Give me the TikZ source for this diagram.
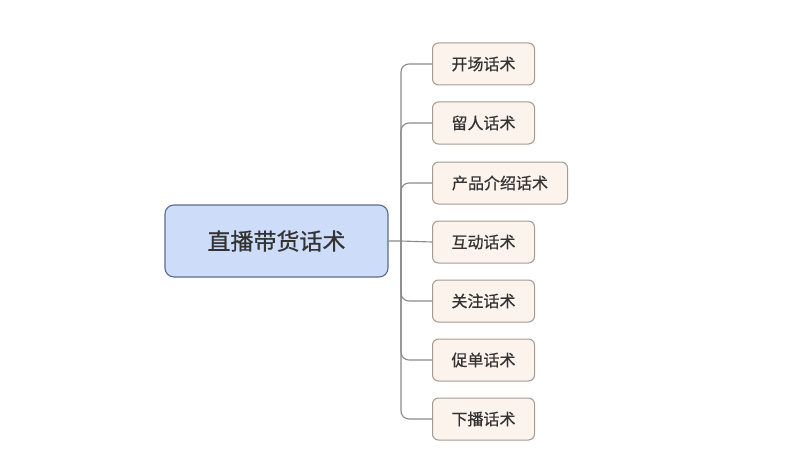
\documentclass[tikz,border=0pt]{standalone}
\usepackage{fontspec}
\setmainfont[FakeBold=0.6]{Noto Sans CJK SC}
\begin{document}
\begin{tikzpicture}[x=1pt,y=-1pt,
  rootbox/.style={draw=rootborder,fill=rootfill,line width=1.1pt,rounded corners=9pt,minimum width=223pt,minimum height=72pt,inner sep=0pt,font=\fontsize{23}{26}\selectfont,text=txt},
  kid/.style={draw=kidborder,fill=kidfill,line width=1pt,rounded corners=6pt,minimum height=42pt,inner sep=0pt,anchor=west,font=\fontsize{16}{19}\selectfont,text=txt},
  conn/.style={draw=linec,line width=1.1pt,rounded corners=8pt}]
\definecolor{rootborder}{HTML}{5A6B8C}
\definecolor{rootfill}{HTML}{CDDCF8}
\definecolor{kidborder}{HTML}{A39A93}
\definecolor{kidfill}{HTML}{FCF3EC}
\definecolor{txt}{HTML}{333333}
\definecolor{linec}{HTML}{8A8A8A}
\useasboundingbox (0,0) rectangle (800,476);
\node[rootbox] (root) at (276.5,241) {直播带货话术};
\node[kid,minimum width=102pt] (c1) at (432,64) {开场话术};
\node[kid,minimum width=102pt] (c2) at (432,123) {留人话术};
\node[kid,minimum width=135pt] (c3) at (432,183) {产品介绍话术};
\node[kid,minimum width=102pt] (c4) at (432,242) {互动话术};
\node[kid,minimum width=102pt] (c5) at (432,301) {关注话术};
\node[kid,minimum width=102pt] (c6) at (432,360) {促单话术};
\node[kid,minimum width=102pt] (c7) at (432,419) {下播话术};
\coordinate (trunk) at (401,241);
\draw[linec,line width=1.1pt] (root.east) -- (trunk) -- (c4.west);
\foreach \c in {c1,c2,c3,c5,c6,c7}{
  \draw[conn] (trunk) |- (\c.west);
}
\end{tikzpicture}
\end{document}
